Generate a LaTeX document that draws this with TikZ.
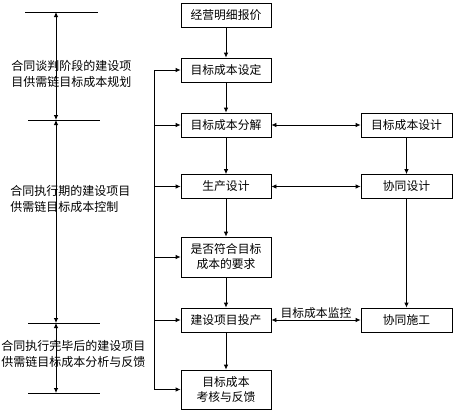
\documentclass[tikz,border=0pt]{standalone}
\usepackage{fontspec}
\newfontfamily\cjk{Noto Sans CJK SC}
\usetikzlibrary{arrows.meta}

\begin{document}
\begin{tikzpicture}[x=1pt,y=-1pt,line width=0.8pt,>={Latex[length=5pt,width=4.5pt]},
  font=\cjk\fontsize{11.8}{15}\selectfont]
  \useasboundingbox (0,0) rectangle (459,416);
  \tikzstyle{Box}=[draw,minimum width=90pt,minimum height=24pt,inner sep=1pt,align=center]
  \tikzstyle{Stage}=[anchor=west,align=left,inner sep=0pt,font=\cjk\fontsize{12}{16}\selectfont]

  % left column
  \node[Box] (bj) at (226,15) {经营明细报价};
  \node[Box] (sd) at (226,70) {目标成本设定};
  \node[Box] (fj) at (226,125) {目标成本分解};
  \node[Box] (sc) at (226,186.5) {生产设计};
  \node[Box,minimum height=40pt] (fh) at (226,257) {是否符合目标\\成本的要求};
  \node[Box] (tc) at (226,320) {建设项目投产};
  \node[Box,minimum height=39pt] (kh) at (226,389.5) {目标成本\\考核与反馈};

  % right column
  \node[Box,minimum width=91pt] (sj) at (406.5,125) {目标成本设计};
  \node[Box,minimum width=91pt] (xs) at (406.5,186.5) {协同设计};
  \node[Box,minimum width=91pt] (sg) at (406.5,320) {协同施工};

  \draw[->] (bj) -- (sd);
  \draw[->] (sd) -- (fj);
  \draw[->] (fj) -- (sc);
  \draw[->] (sc) -- (fh);
  \draw[->] (fh) -- (tc);
  \draw[->] (tc) -- (kh);
  \draw[->] (sj) -- (xs);
  \draw[->] (xs) -- (sg);
  \draw[<->] (fj) -- (sj);
  \draw[<->] (sc) -- (xs);
  \draw[<->] (tc) -- node[above=-1pt,inner sep=2pt] (jk) {目标成本监控} (sg);

  % feedback bus
  \coordinate (bus) at (154,70);
  \coordinate (busb) at (154,389.5);
  \draw (bus) -- (busb);
  \foreach \b in {sd,fj,sc,fh,tc,kh}
    \draw[->] (\b.west -| bus) -- (\b.west);

  % stages
  \coordinate (t1) at (56,12);
  \coordinate (t2) at (56,120);
  \coordinate (t3) at (56,323);
  \coordinate (t4) at (56,393);
  \draw (25,12) -- (98,12);
  \draw (28,120) -- (100,120);
  \draw (28,323) -- (100,323);
  \draw (28,393) -- (100,393);
  \draw[<->] (t1) -- (t2);
  \draw[<->] (t2) -- (t3);
  \draw[<->] (t3) -- (t4);

  \node[Stage] (s1) at (11,74) {合同谈判阶段的建设项\\目供需链目标成本规划};
  \node[Stage] (s2) at (10,199) {合同执行期的建设项目\\供需链目标成本控制};
  \node[Stage] (s3) at (1,354) {合同执行完毕后的建设项目\\供需链目标成本分析与反馈};

\end{tikzpicture}
\end{document}
